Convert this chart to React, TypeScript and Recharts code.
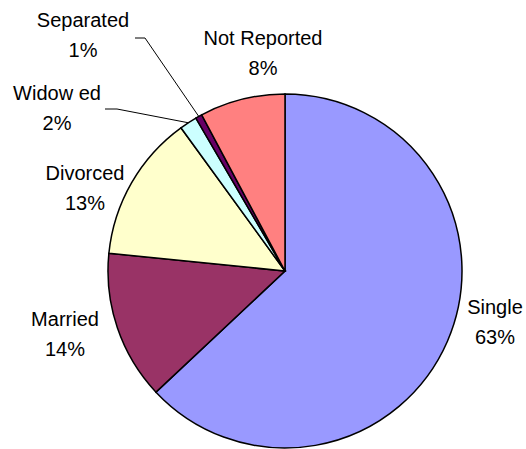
import { PieChart, Pie, Cell } from 'recharts'

const categories = ['Single', 'Married', 'Divorced', 'Widow ed', 'Separated', 'Not Reported']
const shares = [63.0, 13.6, 13.4, 1.6, 0.6, 7.8]
const colors = ['#9999FF', '#993366', '#FFFFCC', '#CCFFFF', '#660066', '#FF8080']

const data = categories.map((name, i) => ({ name, value: shares[i] }))

const CX = 285
const CY = 271
const R = 177
const RAD = Math.PI / 180

// label placement relative to the pie centre (first line baseline)
const labelPos: Record<string, { dx: number; dy: number; line?: [number, number, number, number] }> = {
  Single: { dx: 210, dy: 43 },
  Married: { dx: -220, dy: 55 },
  Divorced: { dx: -200, dy: -91 },
  'Widow ed': { dx: -228, dy: -171, line: [-168, -162, -180, -162] },
  Separated: { dx: -202, dy: -244, line: [-140, -233, -150, -233] },
  'Not Reported': { dx: -22, dy: -226 },
}

const renderLabel = (props: any) => {
  const { midAngle, percent, name } = props
  const cx = props.cx ?? CX
  const cy = props.cy ?? CY
  const r = props.outerRadius ?? R
  const pos = labelPos[name]
  if (!pos) return null
  const x = cx + pos.dx
  const y = cy + pos.dy
  let leader = null
  if (pos.line) {
    const ex = cx + r * Math.cos(-midAngle * RAD)
    const ey = cy + r * Math.sin(-midAngle * RAD)
    const [bx, by, tx, ty] = pos.line
    leader = (
      <polyline
        points={`${ex},${ey} ${cx + bx},${cy + by} ${cx + tx},${cy + ty}`}
        fill="none"
        stroke="#000"
        strokeWidth={1}
      />
    )
  }
  return (
    <g>
      {leader}
      <text x={x} y={y} textAnchor="middle" fill="#000" fontSize={20} fontFamily="'Liberation Sans', Arial, sans-serif">
        {name}
      </text>
      <text x={x} y={y + 30} textAnchor="middle" fill="#000" fontSize={20} fontFamily="'Liberation Sans', Arial, sans-serif">
        {`${Math.round(percent * 100)}%`}
      </text>
    </g>
  )
}

export default function App() {
  return (
    <div style={{ position: 'absolute', left: 0, top: 0, width: 526, height: 449, background: '#fff' }}>
      <PieChart width={526} height={449} margin={{ top: 0, right: 0, bottom: 0, left: 0 }}>
        <Pie
          data={data}
          dataKey="value"
          nameKey="name"
          cx={CX}
          cy={CY}
          outerRadius={R}
          startAngle={90}
          endAngle={-270}
          stroke="#000"
          strokeWidth={1.5}
          label={renderLabel}
          labelLine={false}
          isAnimationActive={false}
        >
          {data.map((d, i) => (
            <Cell key={d.name} fill={colors[i]} />
          ))}
        </Pie>
      </PieChart>
    </div>
  )
}
